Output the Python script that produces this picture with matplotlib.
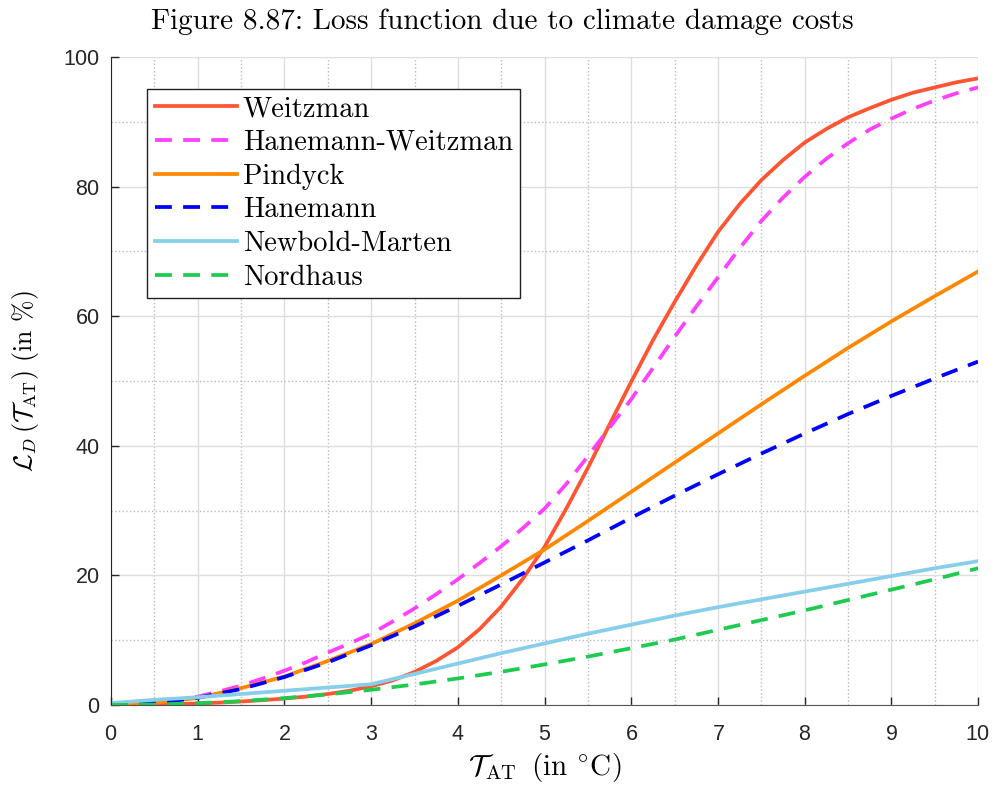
import numpy as np
import matplotlib
matplotlib.use('Agg')
import matplotlib.pyplot as plt
from matplotlib.ticker import MultipleLocator

plt.rcParams['mathtext.fontset'] = 'cm'
plt.rcParams['axes.formatter.use_mathtext'] = True

# temperature grids (in degrees C)
temp = [0, 0.5, 1, 1.5, 2, 2.5, 3, 3.5, 4, 4.5, 5,
        5.5, 6, 6.5, 7, 7.5, 8, 8.5, 9, 9.5, 10]
temp_fine = [0, 0.25, 0.5, 0.75, 1, 1.25, 1.5, 1.75, 2, 2.25, 2.5, 2.75,
             3, 3.25, 3.5, 3.75, 4, 4.25, 4.5, 4.75, 5, 5.25, 5.5, 5.75,
             6, 6.25, 6.5, 6.75, 7, 7.25, 7.5, 7.75, 8, 8.25, 8.5, 8.75,
             9, 9.25, 9.5, 9.75, 10]

# loss values (in %)
weitzman = [0, 0.02, 0.06, 0.13, 0.24, 0.37, 0.54, 0.75, 1.0, 1.3, 1.7, 2.2,
            2.9, 3.8, 5.1, 6.8, 8.9, 11.7, 15.2, 19.5, 24.4, 30.3, 36.6, 43.3,
            49.9, 56.3, 62.2, 67.8, 73.0, 77.3, 81.0, 84.1, 86.8, 88.9, 90.7, 92.1,
            93.4, 94.5, 95.3, 96.1, 96.7]
hanemann_weitzman = [0, 0.08, 0.3, 0.75, 1.3, 2.1, 3.0, 4.1, 5.3, 6.6, 8.1, 9.5,
                     11.0, 12.9, 14.9, 17.1, 19.4, 21.9, 24.5, 27.3, 30.3, 34.1, 38.4, 42.8,
                     47.2, 52.0, 56.8, 61.5, 66.0, 70.5, 74.7, 78.3, 81.5, 84.3, 86.7, 88.8,
                     90.5, 92.0, 93.3, 94.4, 95.3]
pindyck = [0, 0.3, 1.1, 2.6, 4.4, 6.8, 9.4, 12.6, 16.1, 20.0, 24.0,
           28.4, 32.9, 37.4, 41.9, 46.4, 50.8, 55.1, 59.2, 63.1, 66.9]
hanemann = [0, 0.28, 1.12, 2.47, 4.32, 6.59, 9.22, 12.1, 15.3, 18.6, 22.0,
            25.4, 28.9, 32.3, 35.6, 38.8, 41.9, 44.9, 47.7, 50.4, 53.0]
newbold_marten = [0.3, 0.8, 1.2, 1.7, 2.2, 2.7, 3.2, 4.8, 6.4, 8.0, 9.5,
                  11.0, 12.4, 13.8, 15.1, 16.3, 17.5, 18.7, 19.9, 21.1, 22.2]
nordhaus = [0, 0.07, 0.27, 0.6, 1.06, 1.64, 2.35, 3.17, 4.1, 5.13, 6.26,
            7.47, 8.77, 10.1, 11.6, 13.1, 14.6, 16.2, 17.8, 19.4, 21.1]

dash = (0, (4.5, 3))
series = [
    ('Weitzman', temp_fine, weitzman, '#ff5533', '-'),
    ('Hanemann-Weitzman', temp_fine, hanemann_weitzman, '#ff40ff', dash),
    ('Pindyck', temp, pindyck, '#ff8800', '-'),
    ('Hanemann', temp, hanemann, '#0000ff', dash),
    ('Newbold-Marten', temp, newbold_marten, '#87ceeb', '-'),
    ('Nordhaus', temp, nordhaus, '#1ecb50', dash),
]

fig = plt.figure(figsize=(9.95, 7.85), dpi=100)
ax = fig.add_axes([0.1116, 0.1019, 0.8714, 0.8255])

for name, xs, vals, col, ls in series:
    ax.plot(xs, vals, color=col, linestyle=ls, linewidth=2.7, label=name)

ax.set_xlim(0, 10)
ax.set_ylim(0, 100)
ax.xaxis.set_major_locator(MultipleLocator(1))
ax.xaxis.set_minor_locator(MultipleLocator(0.5))
ax.yaxis.set_major_locator(MultipleLocator(20))
ax.yaxis.set_minor_locator(MultipleLocator(10))

ax.grid(which='major', color='#dddddd', linewidth=1.0, linestyle='-')
ax.grid(which='minor', color='#bbbbbb', linewidth=1.0, linestyle=':')
ax.set_axisbelow(True)

for s in ['top', 'right']:
    ax.spines[s].set_visible(False)
ax.spines['left'].set_color('#262626')
ax.spines['bottom'].set_color('#555555')
ax.tick_params(which='major', direction='in', length=6, width=1,
               labelsize=15.5, colors='#262626')
ax.tick_params(axis='x', pad=14)
ax.tick_params(axis='y', pad=8)
ax.tick_params(which='minor', length=0)
for lab in ax.get_xticklabels() + ax.get_yticklabels():
    lab.set_family('Liberation Sans')

ax.set_xlabel(r'$\mathcal{T}_{\mathrm{AT}}\;\;$(in $^{\circ}$C)', family='cmr10',
              fontsize=21, labelpad=4)
ax.set_ylabel(r'$\mathcal{L}_D\,(\mathcal{T}_{\mathrm{AT}})$ (in %)', family='cmr10',
              fontsize=18.5, labelpad=16)
# title is centred on the figure, not on the axes
fig.text(0.505, 0.972, 'Figure 8.87: Loss function due to climate damage costs',
         family='cmr10', fontsize=21, ha='center', va='center')

leg = ax.legend(loc='upper left', bbox_to_anchor=(0.042, 0.951),
                prop={'family': 'cmr10', 'size': 20.5}, fancybox=False,
                framealpha=1, edgecolor='#222222', handlelength=2.9,
                handletextpad=0.2, borderpad=0.25, labelspacing=0.26,
                borderaxespad=0)
leg.get_frame().set_linewidth(1.0)

fig.savefig('out.png', dpi=100)
